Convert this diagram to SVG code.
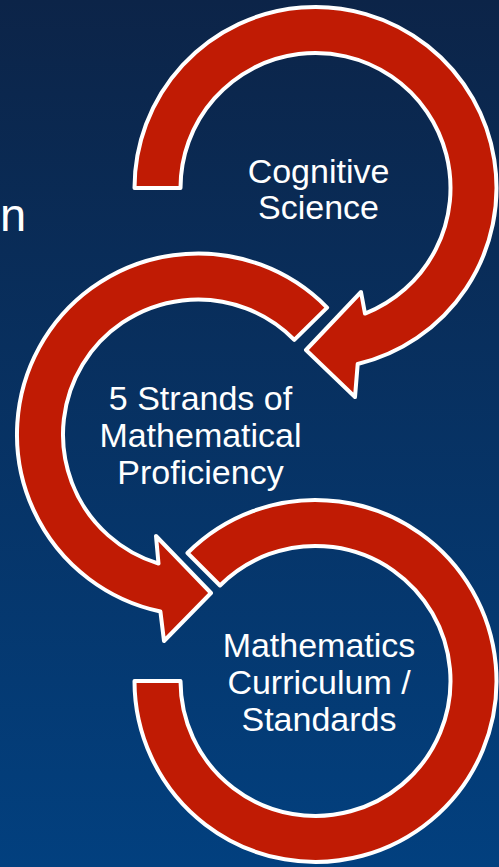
<svg xmlns="http://www.w3.org/2000/svg" width="499" height="867" viewBox="0 0 499 867">
  <defs>
    <linearGradient id="bg" x1="0" y1="0" x2="0" y2="1">
      <stop offset="0" stop-color="#0c2448"/>
      <stop offset="1" stop-color="#02407f"/>
    </linearGradient>
  </defs>
  <style>
    .ring { fill: #c01b04; stroke: #ffffff; stroke-width: 4; stroke-linejoin: round; }
    .lbl { fill: #ffffff; font-family: "Liberation Sans", Arial, sans-serif; font-size: 34px; text-anchor: middle; }
  </style>
  <rect x="0" y="0" width="499" height="867" fill="url(#bg)"/>
  <text x="0" y="231" style="fill:#ffffff;font-family:'Liberation Sans',Arial,sans-serif;font-size:47px">n</text>
  <g id="connectors">
    <path id="arrow-cognitive" class="ring" d="M 134.5 188 A 181 181 0 1 1 357.7 364 L 355 397 L 306 350 L 361 292 L 365 313.6 A 135 135 0 1 0 180.5 188 Z"/>
    <path id="arrow-strands" class="ring" d="M 327.1 307.6 A 181 181 0 1 0 160.4 611.5 L 164 641 L 211 593 L 156 536 L 158.5 563.6 A 135 135 0 1 1 294.3 339.9 Z"/>
    <path id="arc-curriculum" class="ring" d="M 187.5 553 A 181 181 0 1 1 134.5 681 L 180.5 681 A 135 135 0 1 0 220 585.5 Z"/>
  </g>
  <g id="node-cognitive">
    <text class="lbl" x="318.5" y="183">Cognitive</text>
    <text class="lbl" x="318.5" y="219">Science</text>
  </g>
  <g id="node-strands">
    <text class="lbl" x="200.5" y="410">5 Strands of</text>
    <text class="lbl" x="200.5" y="447">Mathematical</text>
    <text class="lbl" x="200.5" y="484">Proficiency</text>
  </g>
  <g id="node-curriculum">
    <text class="lbl" x="319" y="657">Mathematics</text>
    <text class="lbl" x="319" y="694">Curriculum /</text>
    <text class="lbl" x="319" y="731">Standards</text>
  </g>
</svg>
